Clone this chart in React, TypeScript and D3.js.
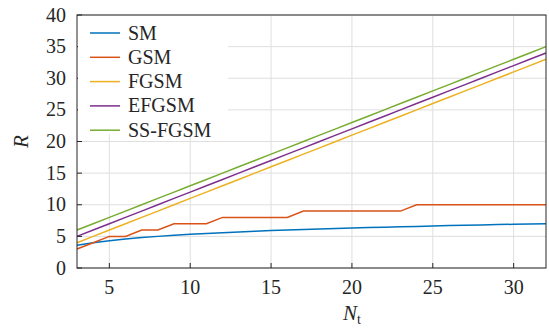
import React from "react";
import * as d3 from "d3";

const nt = [3,4,5,6,7,8,9,10,11,12,13,14,15,16,17,18,19,20,21,22,23,24,25,26,27,28,29,30,31,32];
const smValues = [3.58,4,4.32,4.58,4.81,5,5.17,5.32,5.46,5.58,5.70,5.81,5.91,6,6.09,6.17,6.25,6.32,6.39,6.46,6.52,6.58,6.64,6.70,6.75,6.81,6.86,6.91,6.95,7];
const gsmValues = [3,4,5,5,6,6,7,7,7,8,8,8,8,8,9,9,9,9,9,9,9,10,10,10,10,10,10,10,10,10];
const fgsmValues = [4,5,6,7,8,9,10,11,12,13,14,15,16,17,18,19,20,21,22,23,24,25,26,27,28,29,30,31,32,33];
const efgsmValues = [5,6,7,8,9,10,11,12,13,14,15,16,17,18,19,20,21,22,23,24,25,26,27,28,29,30,31,32,33,34];
const ssfgsmValues = [6,7,8,9,10,11,12,13,14,15,16,17,18,19,20,21,22,23,24,25,26,27,28,29,30,31,32,33,34,35];
const seriesNames = ["SM","GSM","FGSM","EFGSM","SS-FGSM"];
const seriesColors = ["#0072BD","#D95319","#EDB120","#7E2F8E","#77AC30"];
const xTicks = [5,10,15,20,25,30];
const yTicks = [0,5,10,15,20,25,30,35,40];

const FONT = '"Liberation Serif", "Times New Roman", Times, monospace';

export default function App() {
  const W = 549, H = 328;
  const L = 77, R = 546, T = 15, B = 268;
  const x = d3.scaleLinear().domain([3, 32]).range([L, R]);
  const y = d3.scaleLinear().domain([0, 40]).range([B, T]);
  const all = [smValues, gsmValues, fgsmValues, efgsmValues, ssfgsmValues];
  const line = d3.line<[number, number]>().x(d => x(d[0])).y(d => y(d[1]));
  const axisColor = "#262626";
  return (
    <div style={{ position: "absolute", left: 0, top: 0, fontFamily: FONT }}>
      <svg width={W} height={H} fontFamily={FONT} style={{ display: "block", fontFamily: FONT }}>
        <rect x={0} y={0} width={W} height={H} fill="#fff" />
        {xTicks.map(t => (
          <line key={"gx" + t} x1={x(t)} x2={x(t)} y1={T} y2={B} stroke="#dfdfdf" strokeWidth={1} />
        ))}
        {yTicks.map(t => (
          <line key={"gy" + t} x1={L} x2={R} y1={y(t)} y2={y(t)} stroke="#dfdfdf" strokeWidth={1} />
        ))}
        {all.map((vals, i) => (
          <path key={"s" + i} d={line(nt.map((n, j) => [n, vals[j]] as [number, number])) || ""} fill="none" stroke={seriesColors[i]} strokeWidth={1.5} />
        ))}
        <rect x={L} y={T} width={R - L} height={B - T} fill="none" stroke={axisColor} strokeWidth={1} />
        {xTicks.map(t => (
          <g key={"tx" + t}>
            <line x1={x(t)} x2={x(t)} y1={B} y2={B - 5} stroke={axisColor} strokeWidth={1} />
            <text fontFamily={FONT} x={x(t)} y={294} textAnchor="middle" fontSize={20} fill={axisColor}>{t}</text>
          </g>
        ))}
        {yTicks.map(t => (
          <g key={"ty" + t}>
            <line x1={L} x2={L + 5} y1={y(t)} y2={y(t)} stroke={axisColor} strokeWidth={1} />
            <text fontFamily={FONT} x={66} y={y(t) + 6.5} textAnchor="end" fontSize={20} fill={axisColor}>{t}</text>
          </g>
        ))}
        <text fontFamily={FONT} transform={`translate(28,${(T + B) / 2}) rotate(-90)`} textAnchor="middle" fontSize={21} fontStyle="italic" fill={axisColor}>R</text>
        <text fontFamily={FONT} x={352} y={320} textAnchor="middle" fontSize={21} fill={axisColor}>
          <tspan fontStyle="italic">N</tspan>
          <tspan fontSize={14} dy={4}>t</tspan>
        </text>
        <rect x={L + 1} y={T + 1} width={150} height={118} fill="#fff" />
        {seriesNames.map((name, i) => (
          <g key={"lg" + i}>
            <line x1={90} x2={120} y1={33 + i * 24.3} y2={33 + i * 24.3} stroke={seriesColors[i]} strokeWidth={1.5} />
            <text fontFamily={FONT} x={128} y={33 + i * 24.3 + 6.5} fontSize={20} fill={axisColor}>{name}</text>
          </g>
        ))}
      </svg>
    </div>
  );
}
